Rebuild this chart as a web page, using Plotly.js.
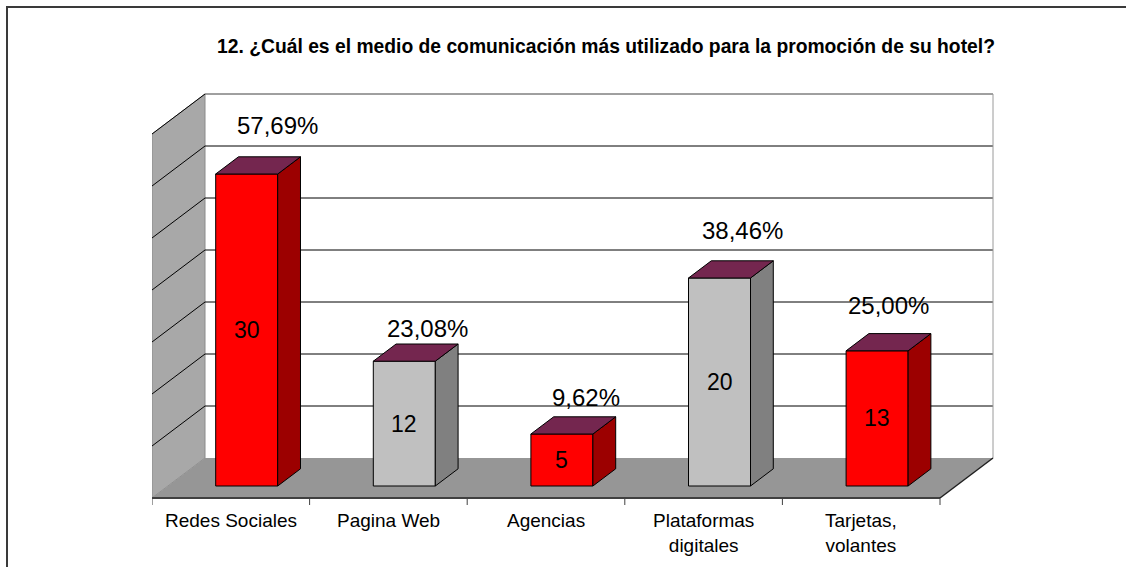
<!DOCTYPE html>
<html>
<head>
<meta charset="utf-8">
<script src="https://cdn.plot.ly/plotly-3.0.1.min.js"></script>
<style>
  html, body { margin: 0; padding: 0; background: #ffffff; }
  #wrap { position: relative; width: 1126px; height: 567px; overflow: hidden; }
  #chart { position: absolute; left: 0; top: 0; width: 1126px; height: 567px; }
  #frame { position: absolute; left: 6px; top: 6px; width: 1200px; height: 700px;
           border-left: 2px solid #3a3a3a; border-top: 2px solid #3a3a3a; pointer-events: none; }
</style>
</head>
<body>
<div id="wrap">
  <div id="chart"></div>
  <div id="frame"></div>
</div>
<script>
// ---------------- DATA ----------------
const categories = ['Redes Sociales', 'Pagina Web', 'Agencias', 'Plataformas digitales', 'Tarjetas, volantes'];
const categoryLabels = ['Redes Sociales', 'Pagina Web', 'Agencias', 'Plataformas<br>digitales', 'Tarjetas,<br>volantes'];
const counts = [30, 12, 5, 20, 13];
const percentLabels = ['57,69%', '23,08%', '9,62%', '38,46%', '25,00%'];
const gridValues = [0, 5, 10, 15, 20, 25, 30, 35];
const chartTitle = '12. ¿Cuál es el medio de comunicación más utilizado para la promoción de su hotel?';

// ---------------- STYLE / LAYOUT ----------------
const FONT = '"Liberation Sans", Arial, sans-serif';
const frontColors = ['#FF0000', '#C0C0C0', '#FF0000', '#C0C0C0', '#FF0000'];
const sideColors  = ['#9C0000', '#808080', '#9C0000', '#808080', '#9C0000'];
const topColor = '#74264F';
const pctShiftX = [7, 0, 0, -1, -12];
const pctShiftY = [6, -10, -6, 5, 3];

const WIDTH = 1126, HEIGHT = 567;
const PX_PER_X = 157.6, PX_PER_Y = 10.4;
const M = { l: 152, r: 115, t: 85, b: 57 };
const FRONT_EDGE_PX = 498;           // pixel row of value 0 on the front edge
const plotW = WIDTH - M.l - M.r, plotH = HEIGHT - M.t - M.b;
const xRange = [-0.5, -0.5 + plotW / PX_PER_X];
const yLow = -((HEIGHT - M.b) - FRONT_EDGE_PX) / PX_PER_Y;
const yRange = [yLow, yLow + plotH / PX_PER_Y];

// oblique depth of the floor (in data units)
const DX = 53 / PX_PER_X, DY = 40 / PX_PER_Y;
const BAR_FRONT = 0.30, BAR_DEPTH = 0.43;
const BAR_W = 62 / PX_PER_X;
const n = categories.length;
const xLeft = -0.5, xRight = n - 0.5;
const vMax = gridValues[gridValues.length - 1];

const shapes = [];
// left side wall
shapes.push({ type: 'path', layer: 'below', xref: 'x', yref: 'y',
  path: `M ${xLeft} 0 L ${xLeft} ${vMax} L ${xLeft + DX} ${vMax + DY} L ${xLeft + DX} ${DY} Z`,
  fillcolor: '#A8A8A8', line: { color: '#8a8a8a', width: 1 } });
// floor
shapes.push({ type: 'path', layer: 'below', xref: 'x', yref: 'y',
  path: `M ${xLeft} 0 L ${xRight} 0 L ${xRight + DX} ${DY} L ${xLeft + DX} ${DY} Z`,
  fillcolor: '#969696', line: { width: 0 } });
// back-wall grid lines & side-wall diagonals
gridValues.forEach(v => {
  if (v > 0) {
    shapes.push({ type: 'line', layer: 'below', xref: 'x', yref: 'y',
      x0: xLeft + DX, x1: xRight + DX, y0: v + DY, y1: v + DY,
      line: { color: v === vMax ? '#404040' : '#000000', width: 1 } });
    shapes.push({ type: 'line', layer: 'below', xref: 'x', yref: 'y',
      x0: xLeft, x1: xLeft + DX, y0: v, y1: v + DY,
      line: { color: '#000000', width: 1 } });
  }
});
// back wall right edge
shapes.push({ type: 'line', layer: 'below', xref: 'x', yref: 'y',
  x0: xRight + DX, x1: xRight + DX, y0: DY, y1: vMax + DY, line: { color: '#9a9a9a', width: 1 } });
// floor front edge and right edge
shapes.push({ type: 'line', layer: 'below', xref: 'x', yref: 'y',
  x0: xLeft, x1: xRight, y0: 0, y1: 0, line: { color: '#404040', width: 2 } });
shapes.push({ type: 'line', layer: 'below', xref: 'x', yref: 'y',
  x0: xRight, x1: xRight + DX, y0: 0, y1: DY, line: { color: '#202020', width: 1.5 } });
// category tick marks on front edge
for (let i = 0; i <= n; i++) {
  shapes.push({ type: 'line', layer: 'below', xref: 'x', yref: 'y',
    x0: xLeft + i, x1: xLeft + i, y0: 0, y1: -7 / PX_PER_Y, line: { color: '#404040', width: 1 } });
}

// ---------------- TRACES ----------------
const idx = categories.map((_, i) => i);
const base = BAR_FRONT * DY;
const offX = BAR_FRONT * DX;
const sdx = BAR_DEPTH * DX, sdy = BAR_DEPTH * DY;

const traces = [{
  type: 'bar',
  x: idx.map(i => i + offX),
  y: counts,
  base: counts.map(() => base),
  width: counts.map(() => BAR_W),
  marker: { color: frontColors, line: { color: '#000000', width: 1 } },
  hoverinfo: 'skip',
  showlegend: false
}];

counts.forEach((v, i) => {
  const xl = i + offX - BAR_W / 2, xr = i + offX + BAR_W / 2;
  const yb = base, yt = base + v;
  traces.push({
    type: 'scatter', mode: 'lines', fill: 'toself', fillcolor: sideColors[i],
    x: [xr, xr, xr + sdx, xr + sdx, xr],
    y: [yb, yt, yt + sdy, yb + sdy, yb],
    line: { color: '#000000', width: 1 }, hoverinfo: 'skip', showlegend: false
  });
  traces.push({
    type: 'scatter', mode: 'lines', fill: 'toself', fillcolor: topColor,
    x: [xl, xr, xr + sdx, xl + sdx, xl],
    y: [yt, yt, yt + sdy, yt + sdy, yt],
    line: { color: '#000000', width: 1 }, hoverinfo: 'skip', showlegend: false
  });
});

// ---------------- ANNOTATIONS ----------------
const annotations = [];
counts.forEach((v, i) => {
  annotations.push({
    x: i + offX + 0.15, y: base + v + 4.1, xref: 'x', yref: 'y',
    text: percentLabels[i], showarrow: false, xanchor: 'center', yanchor: 'middle',
    xshift: pctShiftX[i], yshift: pctShiftY[i],
    font: { family: FONT, size: 24, color: '#000000' }
  });
  annotations.push({
    x: i + offX, y: base + v / 2, xref: 'x', yref: 'y',
    text: String(v), showarrow: false, xanchor: 'center', yanchor: 'middle',
    font: { family: FONT, size: 23, color: '#000000' }
  });
  annotations.push({
    x: i, y: -10 / PX_PER_Y, xref: 'x', yref: 'y',
    text: categoryLabels[i], showarrow: false, xanchor: 'center', yanchor: 'top',
    font: { family: FONT, size: 19, color: '#000000' }
  });
});

const layout = {
  width: WIDTH, height: HEIGHT,
  margin: M,
  paper_bgcolor: '#ffffff', plot_bgcolor: 'rgba(0,0,0,0)',
  showlegend: false,
  title: {
    text: '<b>' + chartTitle + '</b>',
    x: 606 / WIDTH, xref: 'container', xanchor: 'center',
    y: 1 - 46 / HEIGHT, yref: 'container', yanchor: 'middle',
    font: { family: FONT, size: 19.3, color: '#000000' }
  },
  xaxis: { range: xRange, visible: false, fixedrange: true },
  yaxis: { range: yRange, visible: false, fixedrange: true },
  shapes: shapes,
  annotations: annotations,
  bargap: 0
};

Plotly.newPlot('chart', traces, layout, { staticPlot: true, displayModeBar: false });
</script>
</body>
</html>
